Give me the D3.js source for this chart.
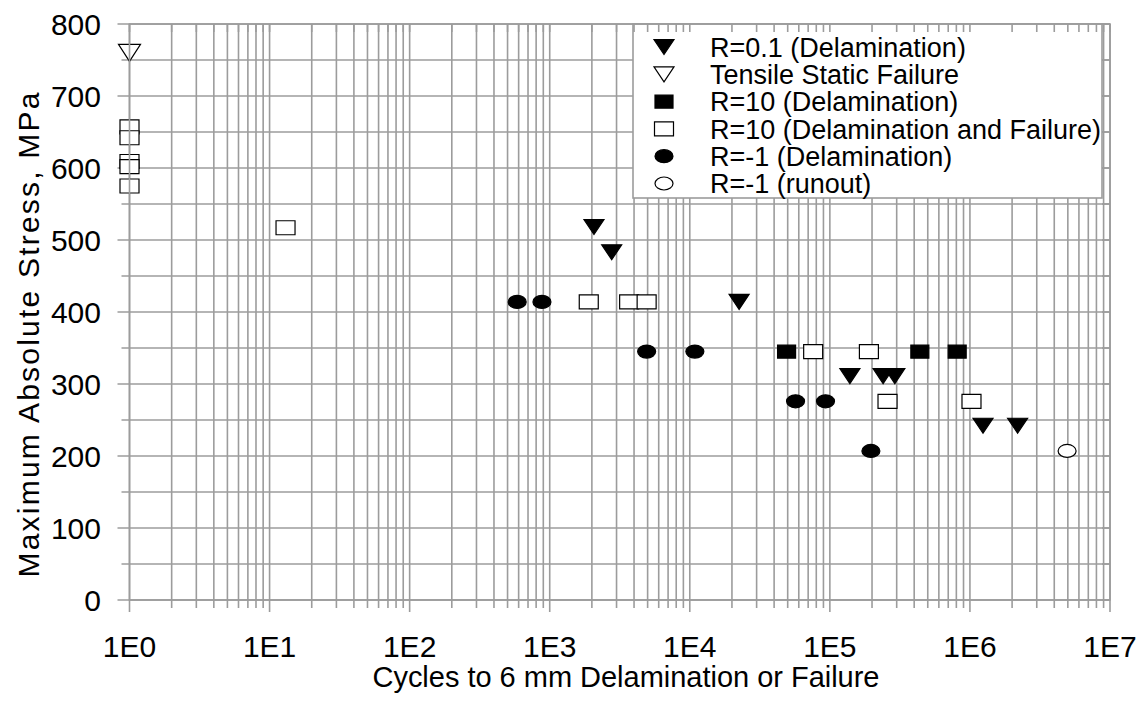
<!DOCTYPE html>
<html>
<head>
<meta charset="utf-8">
<script src="https://cdn.jsdelivr.net/npm/d3@7"></script>
<style>
  html, body { margin: 0; padding: 0; background: #fff; }
  svg { display: block; }
  text { font-family: "Liberation Sans", Arial, sans-serif; fill: #000; }
</style>
</head>
<body>
<svg id="chart" width="1143" height="706"></svg>
<script>
// ---- data ----
const tensileN = [1];
const tensileS = [760];

const r01N = [2070, 2770, 22500, 139000, 240000, 291000, 1240000, 2190000];
const r01S = [518, 483, 414, 311, 311, 311, 242, 242];

const r10N = [49100, 439000, 811000];
const r10S = [345, 345, 345];

const r10fN = [1, 1, 1, 1, 1, 13, 1900, 3690, 4920, 76000, 190000, 258000, 1026000];
const r10fS = [657, 642, 609, 602, 575, 517, 414, 414, 414, 345, 345, 276, 276];

const rm1N = [586, 880, 4920, 10870, 56900, 93100, 196300];
const rm1S = [414, 414, 345, 345, 276, 276, 207];

const rm1rN = [4940000];
const rm1rS = [207];

const xTickLabels = ["1E0", "1E1", "1E2", "1E3", "1E4", "1E5", "1E6", "1E7"];
const yTickValues = [0, 100, 200, 300, 400, 500, 600, 700, 800];

const legendLabels = [
  "R=0.1 (Delamination)",
  "Tensile Static Failure",
  "R=10 (Delamination)",
  "R=10 (Delamination and Failure)",
  "R=-1 (Delamination)",
  "R=-1 (runout)"
];

const xTitle = "Cycles to 6 mm Delamination or Failure";
const yTitle = "Maximum Absolute Stress, MPa";

// ---- layout ----
const L = 129.5, R = 1110, T = 24, B = 600;
const svg = d3.select("#chart");
const x = d3.scaleLog().domain([1, 1e7]).range([L, R]);
const y = d3.scaleLinear().domain([0, 800]).range([B, T]);
const gridColor = "#9c9c9c";

const xAll = [];
for (let e = 0; e < 7; e++) for (let m = 1; m <= 9; m++) xAll.push(m * Math.pow(10, e));
xAll.push(1e7);
const yAll = d3.range(0, 801, 50);
const isDecade = d => Math.abs(Math.log10(d) - Math.round(Math.log10(d))) < 1e-9;

// grid
const grid = svg.append("g");
grid.selectAll("line.v").data(xAll).join("line")
  .attr("x1", d => x(d)).attr("x2", d => x(d))
  .attr("y1", T).attr("y2", d => B + (isDecade(d) ? 12 : 8))
  .attr("stroke", gridColor).attr("stroke-width", 1.6);
grid.selectAll("line.h").data(yAll).join("line")
  .attr("y1", d => y(d)).attr("y2", d => y(d))
  .attr("x1", d => L - (d % 100 === 0 ? 12 : 8)).attr("x2", R)
  .attr("stroke", gridColor).attr("stroke-width", 1.6);

// axis labels
const xTicks = xTickLabels.map((t, i) => ({t, v: Math.pow(10, i)}));
svg.append("g").selectAll("text").data(xTicks).join("text")
  .attr("x", d => x(d.v)).attr("y", 657)
  .attr("text-anchor", "middle").attr("font-size", 30).text(d => d.t);
svg.append("g").selectAll("text").data(yTickValues).join("text")
  .attr("x", 101).attr("y", d => y(d)).attr("dy", "0.36em")
  .attr("text-anchor", "end").attr("font-size", 30).text(d => d);

svg.append("text").attr("x", 626).attr("y", 687).attr("text-anchor", "middle")
  .attr("font-size", 29).attr("textLength", 507).attr("lengthAdjust", "spacing").text(xTitle);
svg.append("text").attr("transform", "translate(39,335) rotate(-90)")
  .attr("text-anchor", "middle").attr("font-size", 30)
  .attr("textLength", 485).attr("lengthAdjust", "spacing").text(yTitle);

// marker shapes
function tri(w, h) { return `M${-w/2},${-h/2}L${w/2},${-h/2}L0,${h/2}Z`; }
function sq(w, h) { return `M${-w/2},${-h/2}H${w/2}V${h/2}H${-w/2}Z`; }

const series = [
  {N: r01N, S: r01S, shape: "tri", w: 20, h: 15, fill: "#000"},
  {N: tensileN, S: tensileS, shape: "tri", w: 22, h: 17, fill: "#fff"},
  {N: r10N, S: r10S, shape: "sq", w: 18, h: 13, fill: "#000"},
  {N: r10fN, S: r10fS, shape: "sq", w: 19, h: 14, fill: "#fff"},
  {N: rm1N, S: rm1S, shape: "ell", w: 18, h: 13, fill: "#000"},
  {N: rm1rN, S: rm1rS, shape: "ell", w: 18, h: 13, fill: "#fff"}
];

function drawMarker(g, s, cx, cy) {
  if (s.shape === "ell") {
    g.append("ellipse").attr("cx", cx).attr("cy", cy).attr("rx", s.w/2).attr("ry", s.h/2)
      .attr("fill", s.fill).attr("stroke", "#000").attr("stroke-width", 1.2);
  } else {
    const p = s.shape === "tri" ? tri(s.w, s.h) : sq(s.w, s.h);
    g.append("path").attr("d", p).attr("transform", `translate(${cx},${cy})`)
      .attr("fill", s.fill).attr("stroke", "#000").attr("stroke-width", 1.2);
  }
}

const marks = svg.append("g");
series.forEach(s => {
  s.N.forEach((n, i) => drawMarker(marks, s, x(n), y(s.S[i])));
});

// legend
const lg = svg.append("g");
const lgL = 633, lgR = 1102, lgT = 24, lgB = 198;
lg.append("rect").attr("x", lgL).attr("y", lgT).attr("width", lgR - lgL).attr("height", lgB - lgT)
  .attr("fill", "#fff").attr("stroke", gridColor).attr("stroke-width", 1.6);
legendLabels.forEach((lab, i) => {
  const cy = 47 + i * 27.3;
  const s = series[i];
  const sLeg = Object.assign({}, s, s.shape === "tri" && s.fill === "#fff" ? {w: 20, h: 15} : {});
  drawMarker(lg, sLeg, 664, cy);
  lg.append("text").attr("x", 710).attr("y", cy).attr("dy", "0.36em")
    .attr("font-size", 27).text(lab);
});

// top ticks (inward) over legend and right ticks
svg.append("g").selectAll("line").data(xAll).join("line")
  .attr("x1", d => x(d)).attr("x2", d => x(d)).attr("y1", T).attr("y2", T + 8)
  .attr("stroke", gridColor).attr("stroke-width", 1.6);
svg.append("g").selectAll("line").data(yAll).join("line")
  .attr("y1", d => y(d)).attr("y2", d => y(d)).attr("x1", R - 8).attr("x2", R)
  .attr("stroke", gridColor).attr("stroke-width", 1.6);
svg.append("rect").attr("x", L).attr("y", T).attr("width", R - L).attr("height", B - T)
  .attr("fill", "none").attr("stroke", gridColor).attr("stroke-width", 1.6);
</script>
</body>
</html>
